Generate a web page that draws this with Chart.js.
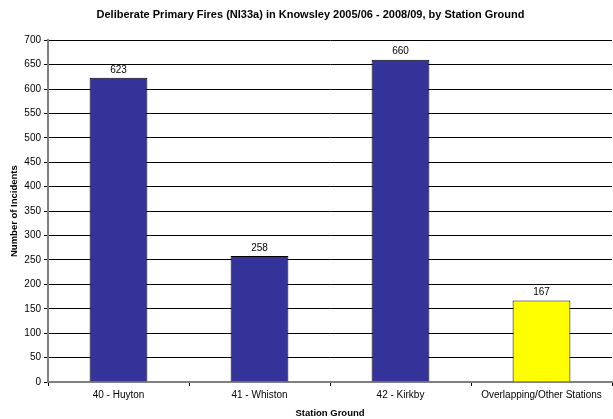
<!DOCTYPE html>
<html>
<head>
<meta charset="utf-8">
<script src="https://cdn.jsdelivr.net/npm/chart.js@4"></script>
<style>
  html, body { margin: 0; padding: 0; background: #fff; }
  #wrap { width: 613px; height: 419px; }
</style>
</head>
<body>
<div id="wrap"><canvas id="meuGrafico" width="613" height="419"></canvas></div>
<script>
var stations = ["40 - Huyton", "41 - Whiston", "42 - Kirkby", "Overlapping/Other Stations"];
var incidents = [623, 258, 660, 167];
var barColours = ["#333399", "#333399", "#333399", "#FFFF00"];
var yTicks = [0, 50, 100, 150, 200, 250, 300, 350, 400, 450, 500, 550, 600, 650, 700];

var fontName = "'Liberation Sans', Arial, sans-serif";

// write the value above each bar
var valueLabels = {
    id: "valueLabels",
    afterDatasetsDraw: function (chart) {
        var ctx = chart.ctx;
        var meta = chart.getDatasetMeta(0);
        ctx.save();
        ctx.font = "10px " + fontName;
        ctx.fillStyle = "#000";
        ctx.textAlign = "center";
        ctx.textBaseline = "bottom";
        meta.data.forEach(function (bar, i) {
            ctx.fillText(incidents[i], bar.x, bar.y - 3);
        });
        ctx.restore();
    }
};

new Chart(document.getElementById("meuGrafico").getContext("2d"), {
    type: "bar",
    data: {
        labels: stations,
        datasets: [{
            data: incidents,
            backgroundColor: barColours,
            borderColor: "#000",
            borderWidth: 1,
            categoryPercentage: 1,
            barPercentage: 0.41
        }]
    },
    options: {
        responsive: false,
        animation: false,
        layout: { padding: { left: 9, right: 1, top: 0, bottom: 0 } },
        plugins: {
            legend: { display: false },
            tooltip: { enabled: false },
            title: {
                display: true,
                text: "Deliberate Primary Fires (NI33a) in Knowsley 2005/06 - 2008/09, by Station Ground",
                color: "#000",
                font: { family: fontName, size: 11, weight: "bold" },
                padding: { top: 8, bottom: 19 }
            }
        },
        scales: {
            x: {
                afterFit: function (s) { s.height = 37; },
                grid: {
                    drawOnChartArea: false,
                    offset: true,
                    tickLength: 4,
                    color: "#000"
                },
                border: { color: "#808080", width: 2 },
                ticks: {
                    color: "#000",
                    font: { family: fontName, size: 10 },
                    padding: 3,
                    maxRotation: 0
                },
                title: {
                    display: true,
                    text: "Station Ground",
                    color: "#000",
                    font: { family: fontName, size: 9.5, weight: "bold" },
                    padding: { top: 1, bottom: 0 }
                }
            },
            y: {
                min: 0,
                max: 700,
                afterFit: function (s) { s.width = 39; },
                afterBuildTicks: function (s) {
                    s.ticks = yTicks.map(function (v) { return { value: v }; });
                },
                grid: {
                    color: "#000",
                    lineWidth: 1,
                    tickLength: 4
                },
                border: { color: "#808080", width: 2 },
                ticks: {
                    color: "#000",
                    font: { family: fontName, size: 10 },
                    padding: 3
                },
                title: {
                    display: true,
                    text: "Number of Incidents",
                    color: "#000",
                    font: { family: fontName, size: 9.5, weight: "bold" },
                    padding: { top: 0, bottom: 2 }
                }
            }
        }
    },
    plugins: [valueLabels]
});
</script>
</body>
</html>
